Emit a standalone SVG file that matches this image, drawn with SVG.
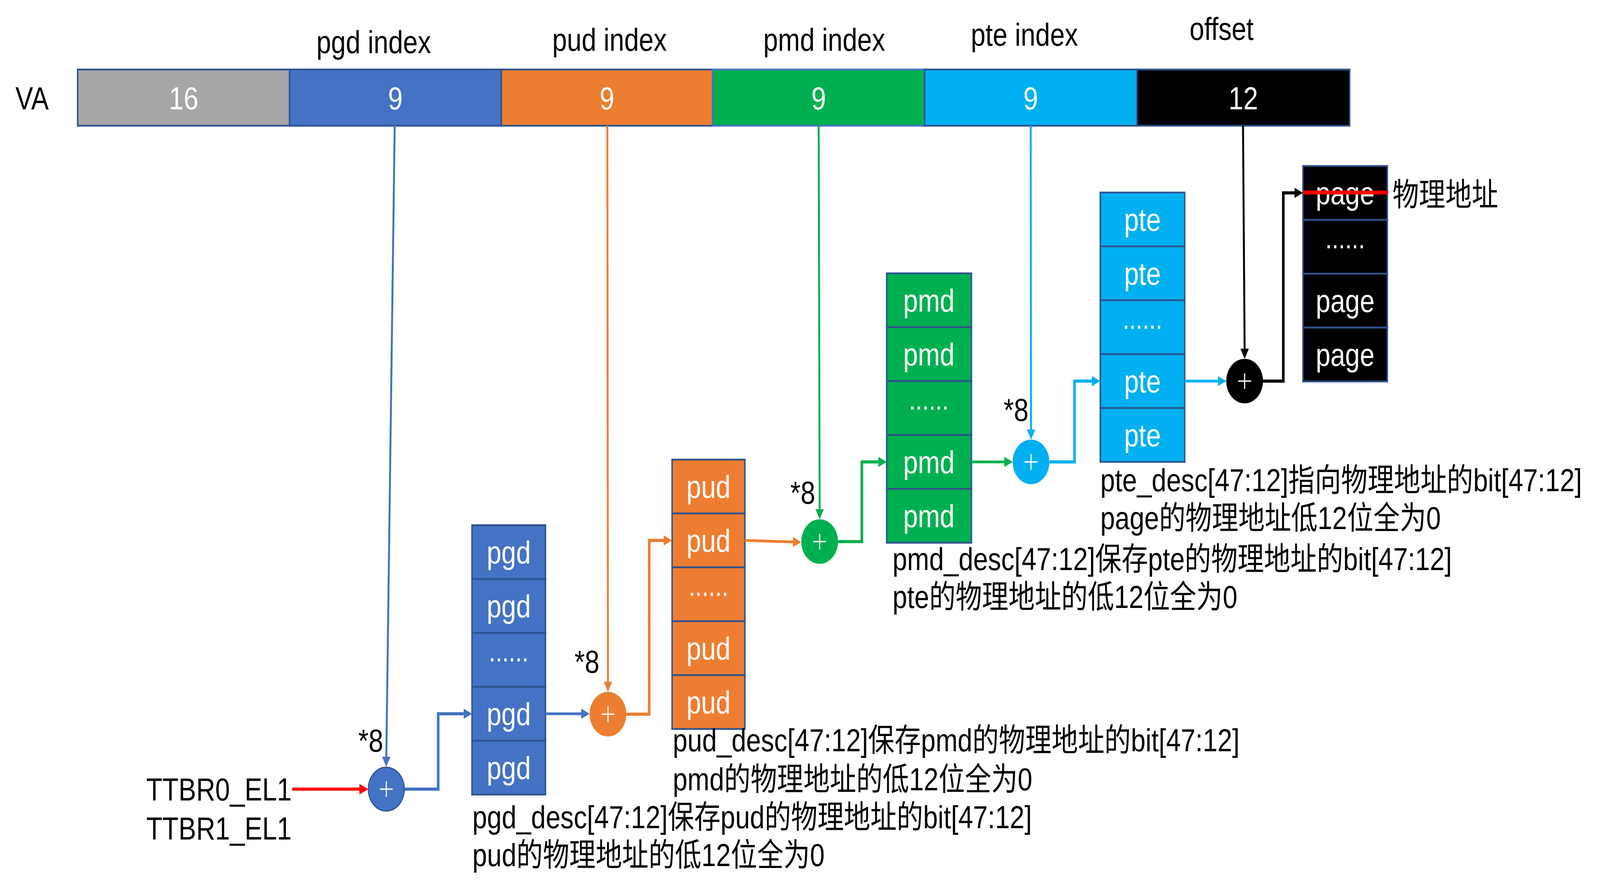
<svg xmlns="http://www.w3.org/2000/svg" width="4966" height="2287" viewBox="0 0 4966 2287" preserveAspectRatio="none">
<defs>
<style>
svg{width:100vw;height:100vh}
.t{font-family:"Liberation Sans","Noto Sans CJK SC",sans-serif;font-size:82px;fill:#000}
.w{font-family:"Liberation Sans","Noto Sans CJK SC",sans-serif;font-size:82px;fill:#fff;text-anchor:middle}
.d{font-family:"Liberation Sans",sans-serif;font-size:74px;fill:#fff;text-anchor:middle}
.seg{stroke:#2F528F;stroke-width:4.5}
.cell{stroke:#2F528F;stroke-width:4.5}
.plus{stroke:#fff;stroke-width:3.5;fill:none}
.ln{fill:none;stroke-linejoin:miter}
</style>
<marker id="aB" markerUnits="userSpaceOnUse" markerWidth="26" markerHeight="26" refX="0" refY="13" orient="auto" viewBox="0 0 26 26"><path d="M0,0 L26,13 L0,26 z" fill="#4472C4"/></marker>
<marker id="aO" markerUnits="userSpaceOnUse" markerWidth="26" markerHeight="26" refX="0" refY="13" orient="auto" viewBox="0 0 26 26"><path d="M0,0 L26,13 L0,26 z" fill="#ED7D31"/></marker>
<marker id="aG" markerUnits="userSpaceOnUse" markerWidth="26" markerHeight="26" refX="0" refY="13" orient="auto" viewBox="0 0 26 26"><path d="M0,0 L26,13 L0,26 z" fill="#00B050"/></marker>
<marker id="aC" markerUnits="userSpaceOnUse" markerWidth="26" markerHeight="26" refX="0" refY="13" orient="auto" viewBox="0 0 26 26"><path d="M0,0 L26,13 L0,26 z" fill="#00B0F0"/></marker>
<marker id="aK" markerUnits="userSpaceOnUse" markerWidth="26" markerHeight="26" refX="0" refY="13" orient="auto" viewBox="0 0 26 26"><path d="M0,0 L26,13 L0,26 z" fill="#000"/></marker>
<marker id="aR" markerUnits="userSpaceOnUse" markerWidth="28" markerHeight="28" refX="0" refY="14" orient="auto" viewBox="0 0 28 28"><path d="M0,0 L28,14 L0,28 z" fill="#FF0000"/></marker>
</defs>
<rect width="4966" height="2287" fill="#fff"/>

<g id="va-bar">
<text class="t" x="48" y="280">VA</text>
<rect class="seg" x="241" y="178" width="658" height="144" fill="#A6A6A6"/>
<rect class="seg" x="899" y="178" width="657" height="144" fill="#4472C4"/>
<rect class="seg" x="1556" y="178" width="656" height="144" fill="#ED7D31"/>
<rect x="2212" y="178" width="658" height="144" fill="#00B050" stroke="#4472C4" stroke-width="4.5"/>
<rect class="seg" x="2870" y="178" width="659" height="144" fill="#00B0F0"/>
<rect class="seg" x="3529" y="178" width="660" height="144" fill="#000"/>
<text class="w" x="570" y="280">16</text>
<text class="w" x="1227" y="280">9</text>
<text class="w" x="1884" y="280">9</text>
<text class="w" x="2541" y="280">9</text>
<text class="w" x="3199" y="280">9</text>
<text class="w" x="3859" y="280">12</text>
<text class="t" x="982" y="136">pgd index</text>
<text class="t" x="1714" y="130">pud index</text>
<text class="t" x="2369" y="130">pmd index</text>
<text class="t" x="3013" y="117">pte index</text>
<text class="t" x="3692" y="102">offset</text>
</g>

<g id="ttbr">
<text class="t" x="454" y="2050">TTBR0_EL1</text>
<text class="t" x="454" y="2150">TTBR1_EL1</text>
</g>

<g id="pgd-table">
<rect class="cell" x="1465" y="1345" width="228" height="138" fill="#4472C4"/>
<rect class="cell" x="1465" y="1483" width="228" height="138" fill="#4472C4"/>
<rect class="cell" x="1465" y="1621" width="228" height="138" fill="#4472C4"/>
<rect class="cell" x="1465" y="1759" width="228" height="138" fill="#4472C4"/>
<rect class="cell" x="1465" y="1897" width="228" height="138" fill="#4472C4"/>
<text class="w" x="1579" y="1443">pgd</text>
<text class="w" x="1579" y="1581">pgd</text>
<text class="d" x="1579" y="1694">......</text>
<text class="w" x="1579" y="1857">pgd</text>
<text class="w" x="1579" y="1995">pgd</text>
<text class="t" x="1466" y="2121">pgd_desc[47:12]保存pud的物理地址的bit[47:12]</text>
<text class="t" x="1466" y="2218">pud的物理地址的低12位全为0</text>
</g>

<g id="pud-table">
<rect class="cell" x="2086" y="1177" width="226" height="138" fill="#ED7D31"/>
<rect class="cell" x="2086" y="1315" width="226" height="138" fill="#ED7D31"/>
<rect class="cell" x="2086" y="1453" width="226" height="138" fill="#ED7D31"/>
<rect class="cell" x="2086" y="1591" width="226" height="138" fill="#ED7D31"/>
<rect class="cell" x="2086" y="1729" width="226" height="138" fill="#ED7D31"/>
<text class="w" x="2199" y="1275">pud</text>
<text class="w" x="2199" y="1413">pud</text>
<text class="d" x="2199" y="1526">......</text>
<text class="w" x="2199" y="1689">pud</text>
<text class="w" x="2199" y="1827">pud</text>
<text class="t" x="2088" y="1924">pud_desc[47:12]保存pmd的物理地址的bit[47:12]</text>
<text class="t" x="2088" y="2024">pmd的物理地址的低12位全为0</text>
</g>

<g id="pmd-table">
<rect class="cell" x="2752" y="700" width="263" height="138" fill="#00B050"/>
<rect class="cell" x="2752" y="838" width="263" height="138" fill="#00B050"/>
<rect class="cell" x="2752" y="976" width="263" height="138" fill="#00B050"/>
<rect class="cell" x="2752" y="1114" width="263" height="138" fill="#00B050"/>
<rect class="cell" x="2752" y="1252" width="263" height="138" fill="#00B050"/>
<text class="w" x="2883" y="798">pmd</text>
<text class="w" x="2883" y="936">pmd</text>
<text class="d" x="2883" y="1049">......</text>
<text class="w" x="2883" y="1212">pmd</text>
<text class="w" x="2883" y="1350">pmd</text>
<text class="t" x="2770" y="1460">pmd_desc[47:12]保存pte的物理地址的bit[47:12]</text>
<text class="t" x="2770" y="1557">pte的物理地址的低12位全为0</text>
</g>

<g id="pte-table">
<rect class="cell" x="3415" y="493" width="262" height="138" fill="#00B0F0"/>
<rect class="cell" x="3415" y="631" width="262" height="138" fill="#00B0F0"/>
<rect class="cell" x="3415" y="769" width="262" height="138" fill="#00B0F0"/>
<rect class="cell" x="3415" y="907" width="262" height="138" fill="#00B0F0"/>
<rect class="cell" x="3415" y="1045" width="262" height="138" fill="#00B0F0"/>
<text class="w" x="3546" y="591">pte</text>
<text class="w" x="3546" y="729">pte</text>
<text class="d" x="3546" y="842">......</text>
<text class="w" x="3546" y="1005">pte</text>
<text class="w" x="3546" y="1143">pte</text>
<text class="t" x="3415" y="1258">pte_desc[47:12]指向物理地址的bit[47:12]</text>
<text class="t" x="3415" y="1355">page的物理地址低12位全为0</text>
</g>

<g id="page-table">
<rect class="cell" x="4044" y="425" width="262" height="138" fill="#000"/>
<rect class="cell" x="4044" y="563" width="262" height="138" fill="#000"/>
<rect class="cell" x="4044" y="701" width="262" height="138" fill="#000"/>
<rect class="cell" x="4044" y="839" width="262" height="138" fill="#000"/>
<text class="w" x="4175" y="523">page</text>
<text class="d" x="4175" y="636">......</text>
<text class="w" x="4175" y="799">page</text>
<text class="w" x="4175" y="937">page</text>
<text class="t" x="4322" y="527">物理地址</text>
</g>

<g id="adders">
<g id="add-pgd">
<circle cx="1199" cy="2021" r="56" fill="#4472C4" stroke="#2F528F" stroke-width="3"/>
<path class="plus" d="M1179,2021 H1219 M1199,2001 V2041"/>
<text class="t" x="1112" y="1925">*8</text>
</g>
<g id="add-pud">
<circle cx="1887" cy="1829" r="57" fill="#ED7D31"/>
<path class="plus" d="M1867,1829 H1907 M1887,1809 V1849"/>
<text class="t" x="1783" y="1723">*8</text>
</g>
<g id="add-pmd">
<circle cx="2544" cy="1387" r="57" fill="#00B050"/>
<path class="plus" d="M2524,1387 H2564 M2544,1367 V1407"/>
<text class="t" x="2453" y="1290">*8</text>
</g>
<g id="add-pte">
<circle cx="3200" cy="1183" r="57" fill="#00B0F0"/>
<path class="plus" d="M3180,1183 H3220 M3200,1163 V1203"/>
<text class="t" x="3115" y="1078">*8</text>
</g>
<g id="add-page">
<circle cx="3863" cy="976" r="57" fill="#000"/>
<path class="plus" d="M3843,976 H3883 M3863,956 V996"/>
</g>
</g>

<g id="connectors">
<path class="ln" d="M1225,322 L1199,1938" stroke="#4472C4" stroke-width="6" marker-end="url(#aB)"/>
<path class="ln" d="M907,2021 H1115" stroke="#FF0000" stroke-width="8" marker-end="url(#aR)"/>
<path class="ln" d="M1256,2021 H1360 V1828 H1439" stroke="#4472C4" stroke-width="8" marker-end="url(#aB)"/>
<path class="ln" d="M1693,1828 H1804" stroke="#4472C4" stroke-width="7" marker-end="url(#aB)"/>
<path class="ln" d="M1885,322 L1887,1746" stroke="#ED7D31" stroke-width="6" marker-end="url(#aO)"/>
<path class="ln" d="M1944,1829 H2015 V1384 H2060" stroke="#ED7D31" stroke-width="8" marker-end="url(#aO)"/>
<path class="ln" d="M2312,1384 L2461,1388" stroke="#ED7D31" stroke-width="7" marker-end="url(#aO)"/>
<path class="ln" d="M2541,322 L2544,1304" stroke="#00B050" stroke-width="6" marker-end="url(#aG)"/>
<path class="ln" d="M2601,1387 H2675 V1183 H2726" stroke="#00B050" stroke-width="8" marker-end="url(#aG)"/>
<path class="ln" d="M3015,1183 H3117" stroke="#00B050" stroke-width="7" marker-end="url(#aG)"/>
<path class="ln" d="M3199,322 L3200,1100" stroke="#00B0F0" stroke-width="6" marker-end="url(#aC)"/>
<path class="ln" d="M3257,1183 H3335 V976 H3389" stroke="#00B0F0" stroke-width="8" marker-end="url(#aC)"/>
<path class="ln" d="M3677,976 H3780" stroke="#00B0F0" stroke-width="7" marker-end="url(#aC)"/>
<path class="ln" d="M3858,322 L3863,893" stroke="#000" stroke-width="6" marker-end="url(#aK)"/>
<path class="ln" d="M3920,976 H3983 V494 H4018" stroke="#000" stroke-width="8" marker-end="url(#aK)"/>
<path class="ln" d="M4044,493 H4308" stroke="#FF0000" stroke-width="10"/>
</g>
</svg>
